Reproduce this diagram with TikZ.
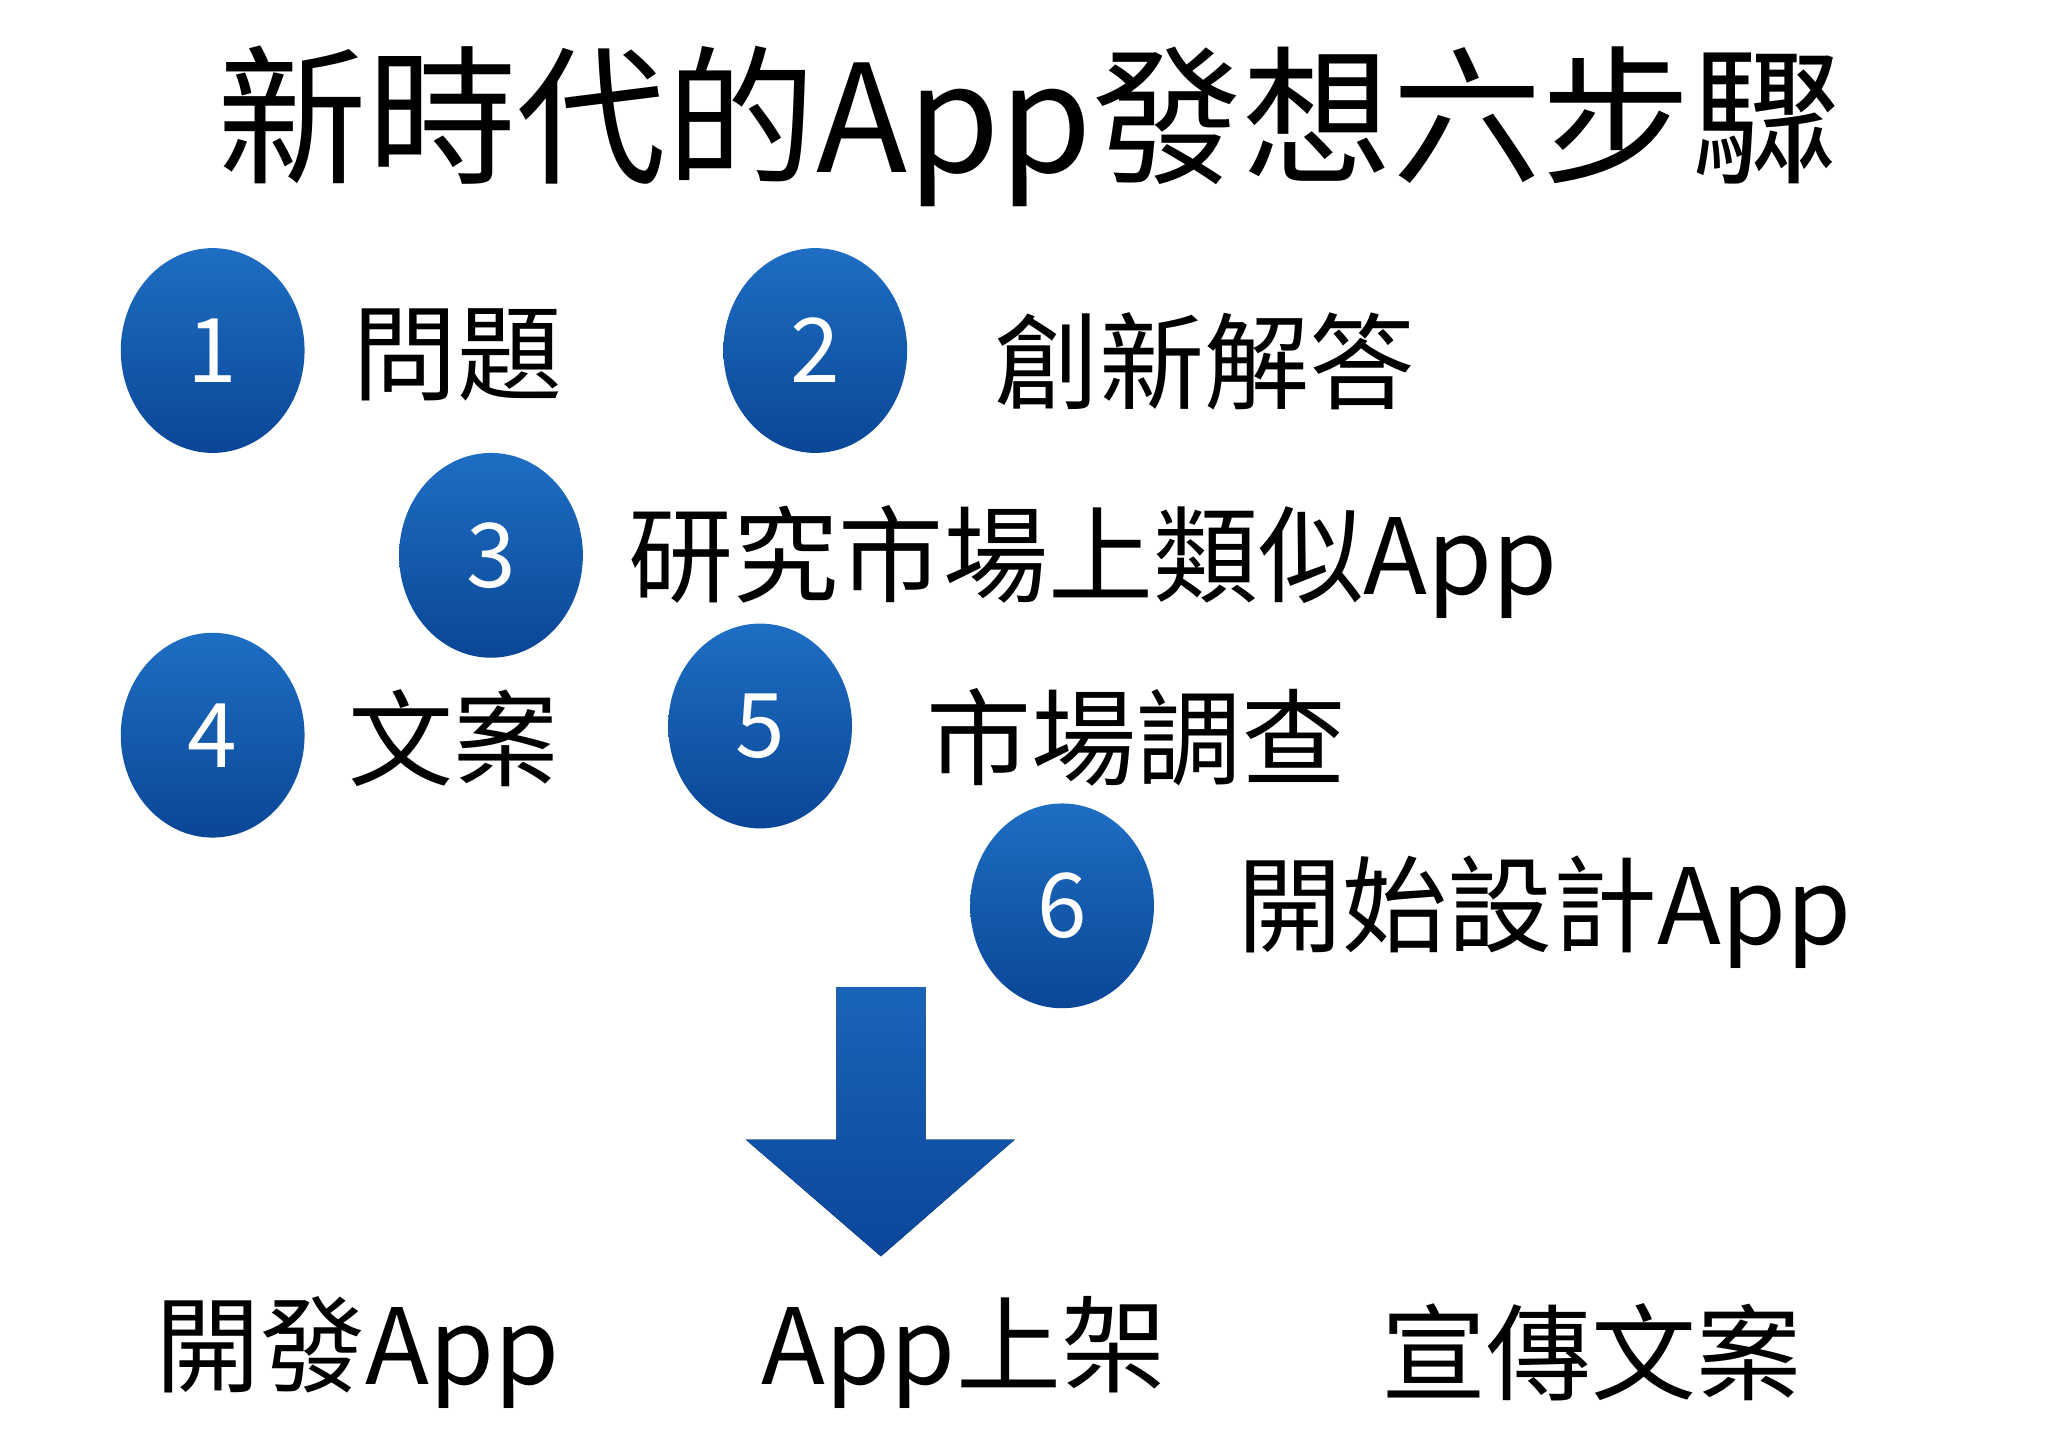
\documentclass[tikz,border=0pt]{standalone}
\usepackage{fontspec}
\usetikzlibrary{shapes.geometric}
\setmainfont{Noto Sans CJK TC}
\begin{document}
\begin{tikzpicture}[x=0.5pt,y=-0.5pt,
  num/.style={ellipse,minimum width=70pt,minimum height=78pt,inner sep=0pt,
    top color={rgb,255:red,30;green,110;blue,195},bottom color={rgb,255:red,10;green,70;blue,150},
    text=white,font=\fontsize{34}{40}\selectfont},
  lab/.style={anchor=west,inner sep=0pt,font=\fontsize{40}{48}\selectfont}]
\useasboundingbox (0,0) rectangle (1560,1102);
\fill[white] (0,0) rectangle (1560,1102);
\node[inner sep=0pt,font=\fontsize{57}{68}\selectfont] (title) at (784,96) {新時代的App發想六步驟};
\node[num] (n1) at (162,267) {1};
\node[num] (n2) at (621,267) {2};
\node[num] (n3) at (374,423) {3};
\node[num] (n4) at (162,560) {4};
\node[num] (n5) at (579,553) {5};
\node[num] (n6) at (809,690) {6};
\node[lab] (t1) at (268,270) {問題};
\node[lab] (t2) at (757,275) {創新解答};
\node[lab] (t3) at (478,428) {研究市場上類似App};
\node[lab] (t4) at (265,562) {文案};
\node[lab] (t5) at (705,562) {市場調查};
\node[lab] (t6) at (942,695) {開始設計App};
\fill[top color={rgb,255:red,25;green,100;blue,185},bottom color={rgb,255:red,10;green,70;blue,155}]
  (637,752) -- (705,752) -- (705,868) -- (773,868) -- (671,957) -- (568,868) -- (637,868) -- cycle;
\node[lab] (b1) at (118,1030) {開發App};
\node[lab] (b2) at (580,1030) {App上架};
\node[lab] (b3) at (1052,1030) {宣傳文案};
\end{tikzpicture}
\end{document}
